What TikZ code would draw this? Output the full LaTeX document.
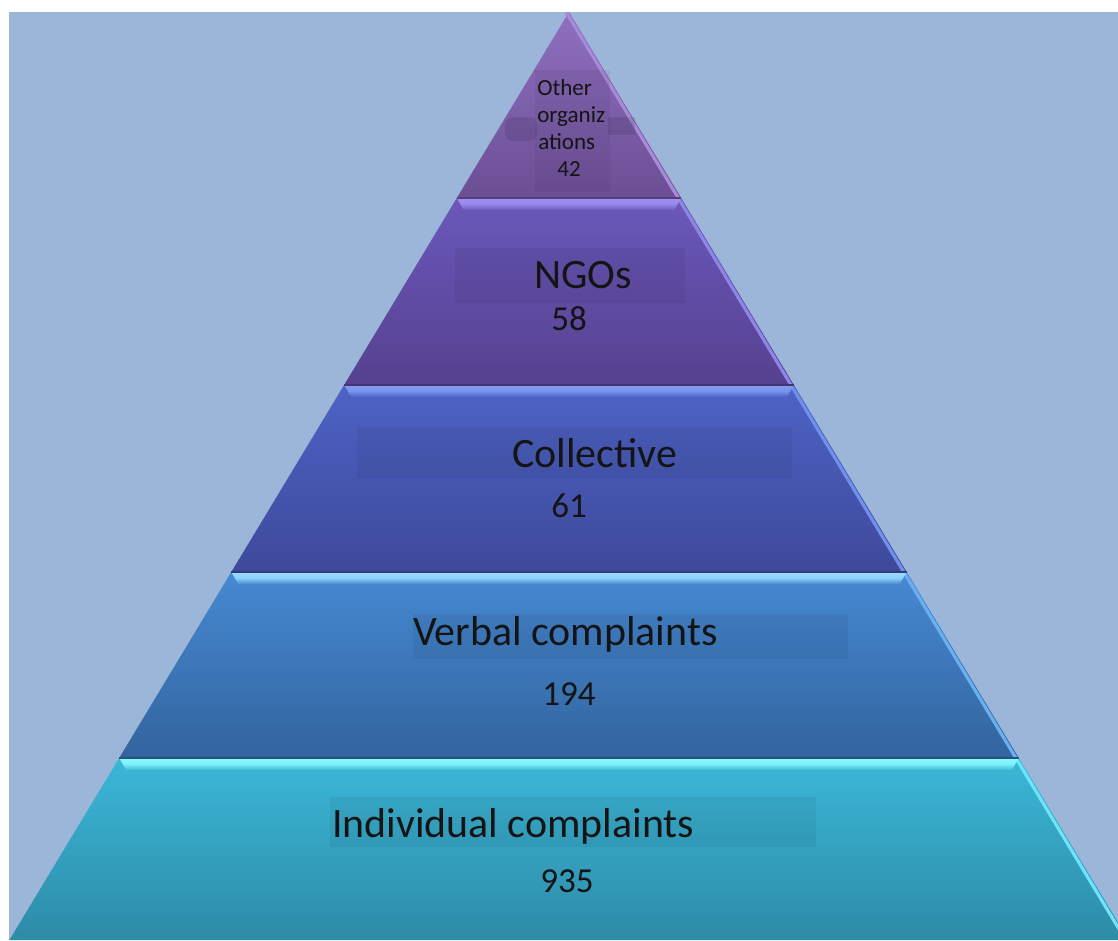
\documentclass[tikz,border=0pt]{standalone}
\usepackage{fontspec}
\setmainfont{Carlito}
\begin{document}
\begin{tikzpicture}[x=0.75pt,y=-0.75pt]
% palette
\definecolor{bgblue}{HTML}{9CB6DA}
\definecolor{bOneT}{HTML}{8F70C0}\definecolor{bOneB}{HTML}{6C4E95}
\definecolor{bTwoT}{HTML}{6B58BB}\definecolor{bTwoB}{HTML}{56418F}
\definecolor{bThreeT}{HTML}{4D63C6}\definecolor{bThreeB}{HTML}{3E499A}
\definecolor{bFourT}{HTML}{4689D3}\definecolor{bFourB}{HTML}{33649E}
\definecolor{bFiveT}{HTML}{3BB7D8}\definecolor{bFiveB}{HTML}{2D8BA7}
\definecolor{sTwo}{HTML}{A090F2}\definecolor{sThree}{HTML}{809CF2}
\definecolor{sFour}{HTML}{98DCFF}\definecolor{sFive}{HTML}{88FAFF}
\definecolor{eOne}{HTML}{A88AD8}\definecolor{eTwo}{HTML}{8E86E6}
\definecolor{eThree}{HTML}{7090EC}\definecolor{eFour}{HTML}{6AB0F0}
\definecolor{eFive}{HTML}{6EE4FA}
\tikzset{
  title/.style={font=\fontsize{31.4pt}{36pt}\selectfont, text=black!92, inner sep=0pt},
  count/.style={font=\fontsize{26.3pt}{30pt}\selectfont, text=black!92, inner sep=0pt},
  small/.style={font=\fontsize{17.3pt}{20pt}\selectfont, text=black!92, inner sep=0pt},
  labelbox/.style={fill=black, opacity=0.05},
  edgelight/.style={line width=2.4pt, line cap=butt}
}
\useasboundingbox (0,0) rectangle (1118,940);
\fill[white] (0,0) rectangle (1118,940);
\fill[bgblue] (9,12) rectangle (1118,940);

\begin{scope}
\clip (9,12) rectangle (1118,940);
% pyramid corners on the left and right edges
\coordinate (apex) at (569,12);
\coordinate (l1) at (456.8,198); \coordinate (r1) at (681.2,198);
\coordinate (l2) at (344.1,385); \coordinate (r2) at (793.9,385);
\coordinate (l3) at (231.3,572); \coordinate (r3) at (906.7,572);
\coordinate (l4) at (119.2,758); \coordinate (r4) at (1018.8,758);
\coordinate (l5) at (9.4,940);   \coordinate (r5) at (1128.6,940);

% levels
\shade[top color=bOneT, bottom color=bOneB] (apex) -- (r1) -- (l1) -- cycle;
\shade[top color=bTwoT, bottom color=bTwoB] (l1) -- (r1) -- (r2) -- (l2) -- cycle;
\shade[top color=bThreeT, bottom color=bThreeB] (l2) -- (r2) -- (r3) -- (l3) -- cycle;
\shade[top color=bFourT, bottom color=bFourB] (l3) -- (r3) -- (r4) -- (l4) -- cycle;
\shade[top color=bFiveT, bottom color=bFiveB] (l4) -- (r4) -- (r5) -- (l5) -- cycle;

% light bevel along the right edge
\draw[edgelight, eOne] ([xshift=-2.2]apex) -- ([xshift=-2.2]r1);
\draw[edgelight, eTwo] ([xshift=-2.2]r1) -- ([xshift=-2.2]r2);
\draw[edgelight, eThree] ([xshift=-2.2]r2) -- ([xshift=-2.2]r3);
\draw[edgelight, eFour] ([xshift=-2.2]r3) -- ([xshift=-2.2]r4);
\draw[edgelight, eFive] ([xshift=-2.2]r4) -- ([xshift=-2.2]r5);

% light bevel strips on top of each level
\shade[top color=sTwo, bottom color=bTwoT, middle color=sTwo!85!bTwoT]
  (l1) -- (r1) -- ([shift={(-7,12)}]r1) -- ([shift={(7,12)}]l1) -- cycle;
\shade[top color=sThree, bottom color=bThreeT, middle color=sThree!85!bThreeT]
  (l2) -- (r2) -- ([shift={(-7,12)}]r2) -- ([shift={(7,12)}]l2) -- cycle;
\shade[top color=sFour, bottom color=bFourT, middle color=sFour!85!bFourT]
  (l3) -- (r3) -- ([shift={(-7,12)}]r3) -- ([shift={(7,12)}]l3) -- cycle;
\shade[top color=sFive, bottom color=bFiveT, middle color=sFive!85!bFiveT]
  (l4) -- (r4) -- ([shift={(-7,12)}]r4) -- ([shift={(7,12)}]l4) -- cycle;
% thin dark seams between levels
\draw[bOneB!80!black, line width=0.8pt] (l1) -- (r1);
\draw[bTwoB!80!black, line width=0.8pt] (l2) -- (r2);
\draw[bThreeB!80!black, line width=0.8pt] (l3) -- (r3);
\draw[bFourB!80!black, line width=0.8pt] (l4) -- (r4);
\end{scope}

% text backgrounds
\fill[labelbox] (535,70) rectangle (610,192);
\fill[black, opacity=0.10, rounded corners=6pt] (505,117) rectangle (537,141);
\fill[black, opacity=0.10] (608,117) rectangle (635,135);
\fill[labelbox] (455,248) rectangle (685,303);
\fill[labelbox] (357,427) rectangle (792,478);
\fill[labelbox] (413,614) rectangle (848,659);
\fill[labelbox] (330,797) rectangle (816,847);

% labels
\node[small, anchor=base west] (oth1) at (537,95) {Other};
\node[small, anchor=base west] (oth2) at (537,122) {organiz};
\node[small, anchor=base west] (oth3) at (538,149) {ations};
\node[small, anchor=base] (oth4) at (569,176) {42};

\node[title, anchor=base west] (ngo) at (534,288) {NGOs};
\node[count, anchor=base west] (ngoN) at (551,330) {58};

\node[title, anchor=base west] (col) at (512,467) {Collective};
\node[count, anchor=base west] (colN) at (551,517) {61};

\node[title, anchor=base west] (verb) at (413,645) {Verbal complaints};
\node[count, anchor=base west] (verbN) at (542,705) {194};

\node[title, anchor=base west] (ind) at (332,837) {Individual complaints};
\node[count, anchor=base west] (indN) at (540,892) {935};
\end{tikzpicture}
\end{document}
